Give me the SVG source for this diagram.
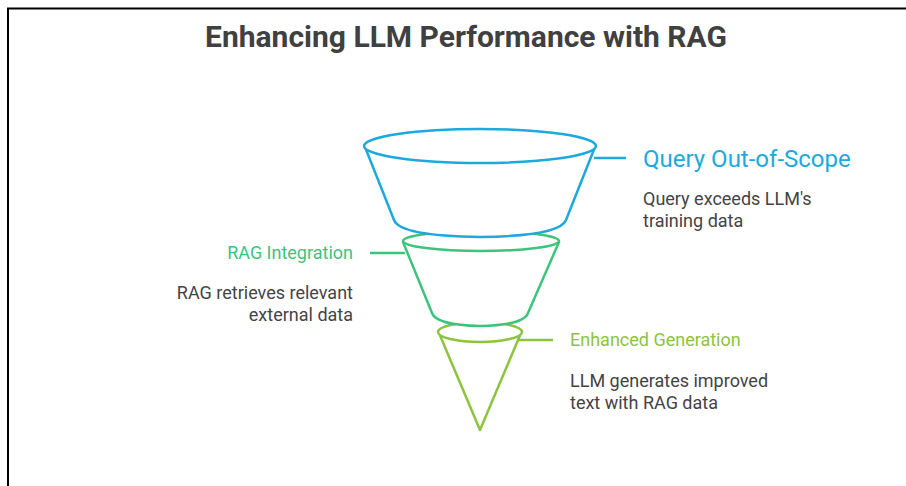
<svg xmlns="http://www.w3.org/2000/svg" width="906" height="486" viewBox="0 0 906 486">
  <style>
    .title { font-family: Roboto, "Liberation Sans", sans-serif; font-weight: 700; font-size: 30px; fill: #404040; }
    .head { font-family: Roboto, "Liberation Sans", sans-serif; font-size: 18px; }
    .big { font-size: 24px; }
    .desc { font-family: Roboto, "Liberation Sans", sans-serif; font-size: 18px; fill: #444444; }
    .blue { stroke: #1ea9dc; }
    .green { stroke: #3cc47c; }
    .lime { stroke: #8dc43e; }
    .seg { fill: #ffffff; stroke-width: 2.5; stroke-linejoin: round; }
    .conn { fill: none; stroke-width: 2.5; }
  </style>

  <rect width="906" height="486" fill="#ffffff"/>
  <!-- frame -->
  <line x1="7" y1="8.5" x2="906" y2="8.5" stroke="#000000" stroke-width="2"/>
  <line x1="8" y1="8" x2="8" y2="486" stroke="#000000" stroke-width="2"/>

  <text class="title" x="466" y="47" text-anchor="middle">Enhancing LLM Performance with RAG</text>

  <!-- funnel, bottom segment drawn first so upper rims overlap it -->
  <g id="enhanced-generation">
    <path class="seg lime" d="M439,333 L480,430 L521,333"/>
    <ellipse class="seg lime" cx="480" cy="332" rx="42" ry="10"/>
    <text class="head" x="570" y="346" fill="#8dc43e">Enhanced Generation</text>
    <text class="desc" x="570" y="387">LLM generates improved</text>
    <text class="desc" x="570" y="409">text with RAG data</text>
  </g>

  <g id="rag-integration">
    <path class="seg green" d="M403,242 L432,313 Q436,325 480,326 Q524,325 528,313 L559,242 Z"/>
    <ellipse class="seg green" cx="481" cy="241" rx="78" ry="10"/>
    <text class="head" x="353" y="259" text-anchor="end" fill="#3cc47c">RAG Integration</text>
    <text class="desc" x="353" y="299" text-anchor="end">RAG retrieves relevant</text>
    <text class="desc" x="353" y="321" text-anchor="end">external data</text>
  </g>

  <g id="query-out-of-scope">
    <path class="seg blue" d="M365,147 L394,220 Q400,236 480,237 Q560,236 566,220 L595,147 Z"/>
    <ellipse class="seg blue" cx="480" cy="146" rx="116" ry="17"/>
    <text class="head big" x="643" y="167" fill="#1ea9dc">Query Out-of-Scope</text>
    <text class="desc" x="643" y="205">Query exceeds LLM's</text>
    <text class="desc" x="643" y="227">training data</text>
  </g>

  <g id="connectors">
    <line class="conn blue" x1="594" y1="158" x2="626" y2="158"/>
    <line class="conn green" x1="370" y1="253" x2="405" y2="253"/>
    <line class="conn lime" x1="517" y1="340" x2="553" y2="340"/>
  </g>
</svg>
